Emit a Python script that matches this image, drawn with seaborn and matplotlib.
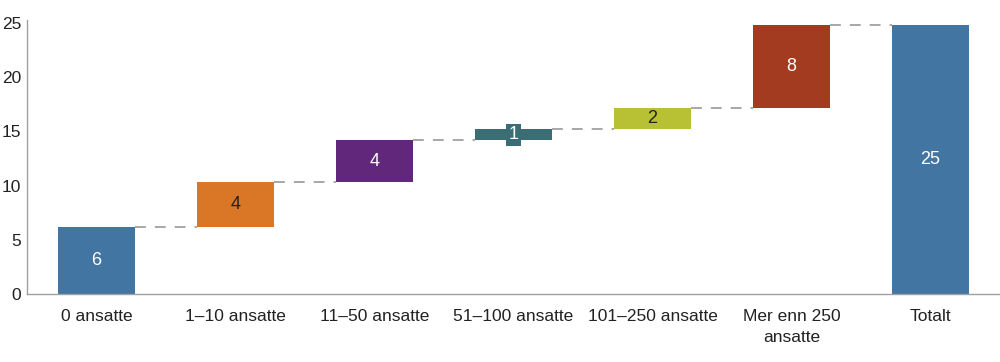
import numpy as np
import matplotlib
matplotlib.use("Agg")
import matplotlib.pyplot as plt
import seaborn as sns

# Waterfall: contribution by company size
categories = ["0 ansatte", "1–10 ansatte", "11–50 ansatte", "51–100 ansatte",
              "101–250 ansatte", "Mer enn 250\nansatte", "Totalt"]
steps = [6.2, 4.1, 3.9, 1.0, 2.0, 7.6]
labels = ["6", "4", "4", "1", "2", "8", "25"]
colors = ["#4375a3", "#d97726", "#61277a", "#3b6d75", "#b8c034", "#a33b20", "#4375a3"]
text_colors = ["white", "#222222", "white", "white", "#222222", "white", "white"]

cum = np.cumsum(steps)
total = cum[-1]
heights = list(steps) + [total]
bottoms = list(np.concatenate([[0], cum[:-1]])) + [0]

sns.set_style("white")
plt.rcParams["font.family"] = ["Liberation Sans", "DejaVu Sans"]

fig = plt.figure(figsize=(10, 3.62), dpi=100)
ax = fig.add_axes([0.027, 0.188, 0.973, 0.757])

width = 0.55
sns.barplot(x=categories, y=heights, bottom=bottoms, color=colors[0],
            width=width, linewidth=0, ax=ax)
for patch, c in zip(ax.patches, colors):
    patch.set_facecolor(c)

# dashed connectors between bars
for i in range(len(cum)):
    ax.plot([i + width / 2, i + 1 - width / 2], [cum[i], cum[i]],
            color="#a0a0a0", lw=1.3, dashes=(6, 5), zorder=0)

# value labels
for i, (b, h) in enumerate(zip(bottoms, heights)):
    kw = {}
    if h < 1.5:
        kw["bbox"] = dict(boxstyle="square,pad=0.15", fc=colors[i], ec="none")
    ax.text(i, b + h / 2, labels[i], ha="center", va="center",
            color=text_colors[i], fontsize=13, **kw)

ax.set_xlim(-0.5, 6.5)
ax.set_ylim(0, 25.3)
ax.set_yticks([0, 5, 10, 15, 20, 25])
sns.despine(ax=ax, top=True, right=True)
for s in ["left", "bottom"]:
    ax.spines[s].set_color("#a0a0a0")
    ax.spines[s].set_linewidth(1)
ax.tick_params(axis="both", length=0, labelsize=12.5, colors="#222222")
ax.tick_params(axis="x", pad=11)
ax.tick_params(axis="y", pad=4)
for t in ax.get_xticklabels():
    t.set_linespacing(1.45)
    t.set_va("top")
ax.set_xlabel("")
ax.set_ylabel("")

fig.savefig("out.png", dpi=100)
